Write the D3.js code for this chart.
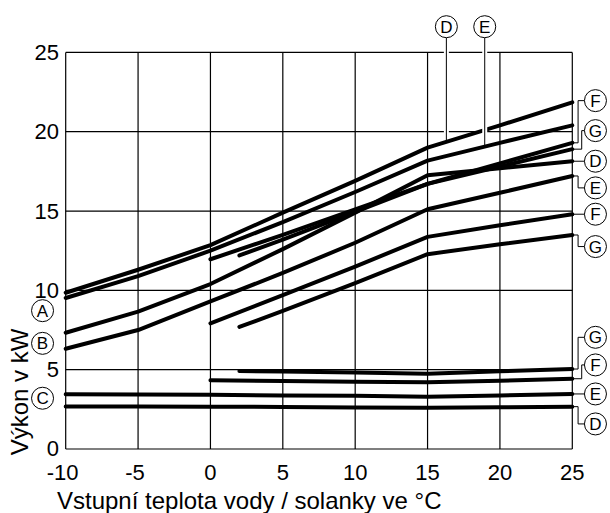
<!DOCTYPE html>
<html>
<head>
<meta charset="utf-8">
<script src="https://cdnjs.cloudflare.com/ajax/libs/d3/7.8.5/d3.min.js"></script>
<style>
  body { margin: 0; background: #fff; }
  svg text { font-family: "Liberation Sans", Arial, sans-serif; fill: #000; }
</style>
</head>
<body>
<svg id="chart" width="610" height="513"></svg>
<script>
/**
 * values
 */
// inlet temperature, °C
var temps = [-10, -5, 0, 5, 10, 15, 20, 25];
var tempsF = [0, 5, 10, 15, 20, 25];
var tempsG = [2, 5, 10, 15, 20, 25];

var xTicks = [-10, -5, 0, 5, 10, 15, 20, 25];
var yTicks = [0, 5, 10, 15, 20, 25];

// heating output, upper curves (kW)
var heatD1 = [9.85, 11.3, 12.85, 14.9, 16.9, 19.0, 20.4, 21.85];
var heatE1 = [9.52, 10.9, 12.5, 14.3, 16.2, 18.18, 19.3, 20.4];
var heatF1 = [11.96, 13.5, 15.1, 16.71, 18.0, 19.3];
var heatG1 = [12.2, 13.2, 14.95, 16.71, 17.8, 18.9];
// heating output, lower curves (kW)
var heatD2 = [7.33, 8.66, 10.4, 12.6, 14.9, 17.26, 17.7, 18.14];
var heatE2 = [6.32, 7.5, 9.3, 11.1, 13.0, 15.11, 16.15, 17.21];
var heatF2 = [7.92, 9.7, 11.5, 13.37, 14.1, 14.8];
var heatG2 = [7.7, 8.7, 10.45, 12.28, 12.9, 13.49];
// power consumption (kW)
var powerD = [2.68, 2.68, 2.67, 2.65, 2.62, 2.6, 2.63, 2.67];
var powerE = [3.45, 3.44, 3.42, 3.38, 3.35, 3.3, 3.38, 3.47];
var powerF = [4.33, 4.28, 4.24, 4.2, 4.3, 4.43];
var powerG = [4.92, 4.88, 4.82, 4.75, 4.9, 5.04];

var series = {
  heatD1: {x: temps, y: heatD1},
  heatE1: {x: temps, y: heatE1},
  heatF1: {x: tempsF, y: heatF1},
  heatG1: {x: tempsG, y: heatG1},
  heatD2: {x: temps, y: heatD2},
  heatE2: {x: temps, y: heatE2},
  heatF2: {x: tempsF, y: heatF2},
  heatG2: {x: tempsG, y: heatG2},
  powerD: {x: temps, y: powerD},
  powerE: {x: temps, y: powerE},
  powerF: {x: tempsF, y: powerF},
  powerG: {x: tempsG, y: powerG}
};

// left labels: letter, °C, kW
var leftLabels = [['A', -11.6, 8.72], ['B', -11.6, 6.66], ['C', -11.6, 3.2]];
// top labels: letter, °C, curve it points to
var topLabels = [['D', 16.3, 'heatD1'], ['E', 18.95, 'heatE1']];
// right labels: letter, curve, label kW (null = level with curve end), bend °C
var rightLabels = [
  ['F', 'heatF1', 21.96, 25.4],
  ['G', 'heatG1', 20.07, 25.65],
  ['D', 'heatD2', null, 0],
  ['E', 'heatE2', 16.46, 25.4],
  ['F', 'heatF2', null, 0],
  ['G', 'heatG2', 12.76, 25.4],
  ['G', 'powerG', 7.04, 25.4],
  ['F', 'powerF', 5.3, 25.65],
  ['E', 'powerE', null, 0],
  ['D', 'powerD', 1.58, 25.4]
];

var svg = d3.select('#chart');
var x = d3.scaleLinear().domain([-10, 25]).range([65.7, 572.3]);
var y = d3.scaleLinear().domain([0, 25]).range([449, 52.4]);
var r = 11;

// grid, the outer lines make the frame
svg.append('g').selectAll('line').data(xTicks).join('line')
  .attr('x1', function(d) { return x(d); }).attr('x2', function(d) { return x(d); })
  .attr('y1', y(0)).attr('y2', y(25))
  .attr('stroke', '#000').attr('stroke-width', 1.2);
svg.append('g').selectAll('line').data(yTicks).join('line')
  .attr('y1', function(d) { return y(d); }).attr('y2', function(d) { return y(d); })
  .attr('x1', x(-10)).attr('x2', x(25))
  .attr('stroke', '#000').attr('stroke-width', 1.2);

// tick labels
svg.append('g').selectAll('text').data(yTicks).join('text')
  .attr('x', 59).attr('y', function(d) { return y(d); })
  .attr('dy', '0.34em').attr('text-anchor', 'end')
  .attr('font-size', 22).text(function(d) { return d; });
svg.append('g').selectAll('text').data(xTicks).join('text')
  .attr('x', function(d) { return x(d) - (d < 0 ? 3 : 0); }).attr('y', 480)
  .attr('text-anchor', 'middle')
  .attr('font-size', 22).text(function(d) { return d; });

// axis titles
svg.append('text').attr('x', 57).attr('y', 509)
  .attr('font-size', 24).text('Vstupní teplota vody / solanky ve °C');
svg.append('text').attr('transform', 'translate(28,392) rotate(-90)')
  .attr('text-anchor', 'middle')
  .attr('font-size', 24).text('Výkon v kW');

// curves
var line = d3.line()
  .x(function(d) { return x(d[0]); })
  .y(function(d) { return y(d[1]); });
Object.keys(series).forEach(function(key) {
  var s = series[key];
  svg.append('path')
    .datum(d3.zip(s.x, s.y))
    .attr('d', line)
    .attr('fill', 'none').attr('stroke', '#000')
    .attr('stroke-width', 4)
    .attr('stroke-linecap', 'round').attr('stroke-linejoin', 'round');
});

/**
 * value of a curve at a temperature.
 */
function valueAt(s, t) {
  for (var i = 0; i < s.x.length - 1; i++) {
    if (t >= s.x[i] && t <= s.x[i + 1]) {
      var f = (t - s.x[i]) / (s.x[i + 1] - s.x[i]);
      return s.y[i] + f * (s.y[i + 1] - s.y[i]);
    }
  }
  return s.y[s.y.length - 1];
}

/**
 * circled letter.
 */
function drawBadge(cx, cy, letter) {
  svg.append('circle').attr('cx', cx).attr('cy', cy).attr('r', r)
    .attr('fill', '#fff').attr('stroke', '#000').attr('stroke-width', 1);
  svg.append('text').attr('x', cx).attr('y', cy).attr('dy', '0.36em')
    .attr('text-anchor', 'middle').attr('font-size', 17).text(letter);
}

leftLabels.forEach(function(l) {
  drawBadge(x(l[1]), y(l[2]), l[0]);
});

// top labels, leaders get a white halo where they cross the grid
topLabels.forEach(function(l) {
  var cx = x(l[1]);
  var cy = 26.7;
  var yEnd = y(valueAt(series[l[2]], l[1]));
  svg.append('line').attr('x1', cx).attr('x2', cx)
    .attr('y1', cy + r).attr('y2', yEnd - 3)
    .attr('stroke', '#fff').attr('stroke-width', 5);
  svg.append('line').attr('x1', cx).attr('x2', cx)
    .attr('y1', cy + r).attr('y2', yEnd)
    .attr('stroke', '#000').attr('stroke-width', 1);
  drawBadge(cx, cy, l[0]);
});

// right labels
rightLabels.forEach(function(l) {
  var s = series[l[1]];
  var endY = y(s.y[s.y.length - 1]);
  var cx = x(26.6);
  var cy = l[2] === null ? endY : y(l[2]);
  var d = l[2] === null ?
    'M' + x(25) + ',' + endY + 'H' + (cx - r) :
    'M' + x(25) + ',' + endY + 'H' + x(l[3]) + 'V' + cy + 'H' + (cx - r);
  svg.append('path').attr('d', d)
    .attr('fill', 'none').attr('stroke', '#000').attr('stroke-width', 1);
  drawBadge(cx, cy, l[0]);
});
</script>
</body>
</html>
